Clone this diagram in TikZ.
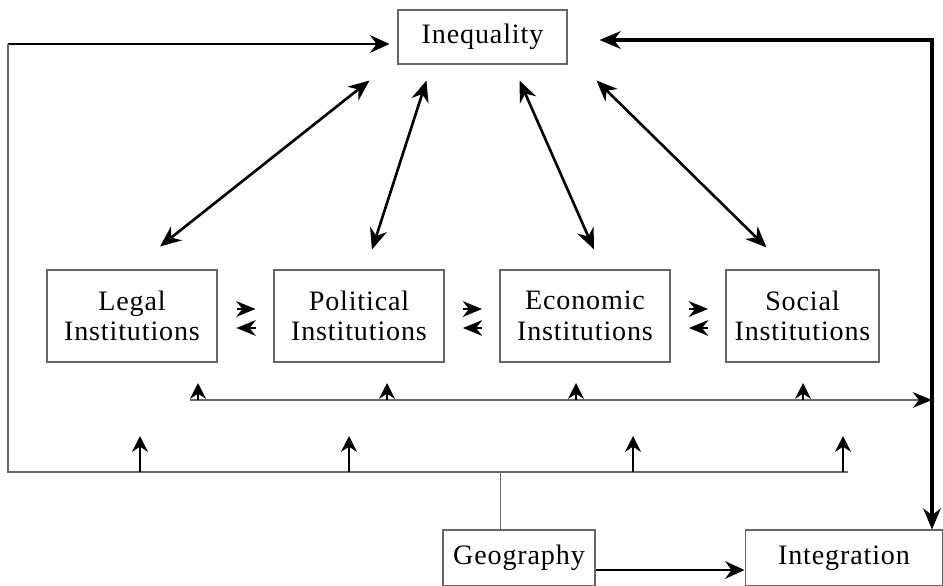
\documentclass[tikz,border=0pt]{standalone}
\usepackage{fontspec}
\setmainfont[LetterSpace=3]{Liberation Serif}
\usetikzlibrary{arrows.meta,calc}

\begin{document}
\begin{tikzpicture}[x=0.02cm, y=-0.02cm,
    every node/.style={font=\fontsize{16}{17.5}\selectfont},
    box/.style={draw=black!60, line width=0.6pt, align=center, inner sep=0pt},
    rahmen/.style={draw=black!60, line width=0.7pt},
    pfeil/.style={line width=1.6pt, -{Stealth[length=11pt,width=10pt]}},
    doppel/.style={line width=1.5pt, {Stealth[length=12pt,width=10pt]}-{Stealth[length=12pt,width=10pt]}},
    kopf/.style={line width=0.8pt, -{Stealth[length=11pt,width=9pt]}},
    hoch/.style={line width=1.1pt, -{Stealth[length=9pt,width=9pt]}}]
    \clip (0,0) rectangle (943,585);

    % Kästen
    \node[box, minimum width=3.38cm, minimum height=1.08cm] (inequality) at (482.5,37) {Inequality};
    \node[box, minimum width=3.4cm, minimum height=1.84cm] (legal) at (132,316) {Legal\\Institutions};
    \node[box, minimum width=3.4cm, minimum height=1.84cm] (political) at (359,316) {Political\\Institutions};
    \node[box, minimum width=3.4cm, minimum height=1.84cm] (economic) at (585,316) {Economic\\Institutions};
    \node[box, minimum width=3.06cm, minimum height=1.84cm] (social) at (802.5,316) {Social\\Institutions};
    \node[box, minimum width=3.04cm, minimum height=1.12cm] (geography) at (519,558) {Geography};
    \node[box, minimum width=3.96cm, minimum height=1.12cm] (integration) at (844,558) {Integration};

    % Doppelpfeile zu Inequality
    \draw[doppel] ($(legal.north)+(28,-23)$) -- ($(inequality.south west)+(-28,16)$);
    \draw[doppel] ($(political.north)+(13,-20)$) -- ($(inequality.south west)+(29,16)$);
    \draw[doppel] ($(economic.north)+(9,-20)$) -- ($(inequality.south east)+(-48,16)$);
    \draw[doppel] ($(social.north)+(-36,-22)$) -- ($(inequality.south east)+(29,16)$);

    % Pfeilpaare zwischen den Institutionen
    \foreach \a/\b in {legal/political, political/economic, economic/social} {
        \coordinate (m) at ($(\a.east)!0.5!(\b.west)$);
        \draw[kopf] ($(m)+(-9,-7)$) -- ($(m)+(10,-7)$);
        \draw[kopf] ($(m)+(10,12)$) -- ($(m)+(-9,12)$);
    }

    % Rückkopplung links und unten
    \coordinate (ecke) at (8,44);
    \draw[pfeil] (ecke) -- ($(inequality.west)+(-8,7)$);
    \draw[rahmen] (ecke) -- (8,472) -- (848,472);
    \draw[rahmen] ($(geography.north west)+(58,0)$) -- +(0,-58);
    \foreach \x in {140,349,633,843}
        \draw[hoch] (\x,472) -- (\x,436);

    % mittlere Linie
    \draw[rahmen, -{Stealth[length=11pt,width=9pt,black]}] (190,400) -- (932,400);
    \foreach \x in {198,387,576,803}
        \draw[hoch] (\x,400) -- (\x,383);

    % rechts: Integration <-> Inequality
    \draw[line width=2.2pt, {Stealth[length=12pt,width=10pt]}-{Stealth[length=12pt,width=10pt]}]
        ($(inequality.east)+(32,3)$) -| ($(integration.north)+(88,0)$);
    \draw[pfeil] ($(geography.east)+(0,12)$) -- ($(integration.west)+(0,12)$);
\end{tikzpicture}
\end{document}
